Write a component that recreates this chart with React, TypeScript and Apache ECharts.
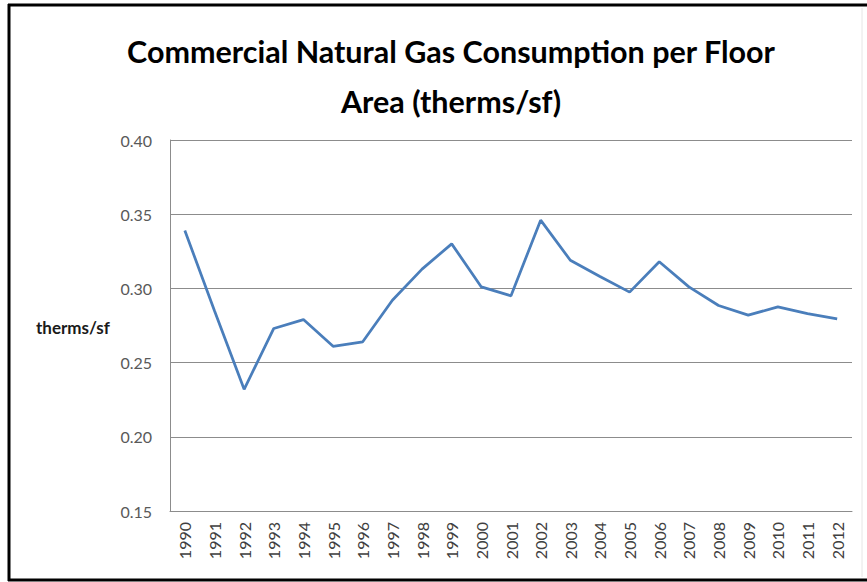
import React, { useEffect, useRef } from "react";
import * as echarts from "echarts";

const years = ["1990","1991","1992","1993","1994","1995","1996","1997","1998","1999","2000","2001","2002","2003","2004","2005","2006","2007","2008","2009","2010","2011","2012"];
const thermsPerSf = [0.339,0.285,0.232,0.273,0.279,0.261,0.264,0.292,0.313,0.330,0.301,0.295,0.346,0.319,0.308,0.2975,0.318,0.301,0.2885,0.282,0.2875,0.283,0.2795];
const titleLines = ["Commercial Natural Gas Consumption per Floor", "Area (therms/sf)"];
const yAxisName = "therms/sf";

export default function App() {
  const ref = useRef<HTMLDivElement>(null);
  useEffect(() => {
    const chart = echarts.init(ref.current!, null, { renderer: "svg" });
    chart.setOption({
      animation: false,
      backgroundColor: "#ffffff",
      textStyle: { fontFamily: "Lato, 'Open Sans', sans-serif" },
      title: {
        text: titleLines.join("\n"),
        left: 446,
        textAlign: "center",
        top: 21,
        textStyle: {
          fontFamily: "Lato, sans-serif",
          fontSize: 30.5,
          fontWeight: "bold",
          color: "#000000",
          lineHeight: 50,
        },
      },
      grid: { left: 170, right: 15, top: 140, bottom: 71, containLabel: false },
      xAxis: {
        type: "category",
        data: years,
        boundaryGap: true,
        axisLine: { show: true, lineStyle: { color: "#8c8c8c", width: 1 } },
        axisTick: { show: false },
        axisLabel: { rotate: 90, margin: 11, fontSize: 16, color: "#404040", fontFamily: "Lato, sans-serif" },
        splitLine: { show: false },
      },
      yAxis: {
        type: "value",
        min: 0.15,
        max: 0.4,
        interval: 0.05,
        axisLine: { show: true, lineStyle: { color: "#8c8c8c", width: 1 } },
        axisTick: { show: false },
        axisLabel: {
          margin: 18,
          fontSize: 16,
          color: "#595959",
          fontFamily: "Lato, sans-serif",
          formatter: (v: number) => v.toFixed(2),
        },
        splitLine: { show: true, lineStyle: { color: "#8c8c8c", width: 1 } },
      },
      series: [
        {
          type: "line",
          data: thermsPerSf,
          symbol: "none",
          lineStyle: { color: "#4a7ebb", width: 2.75 },
          itemStyle: { color: "#4a7ebb" },
        },
      ],
      graphic: [
        {
          type: "text",
          x: 36,
          y: 327,
          style: { text: yAxisName, fontSize: 17, fontWeight: "bold", fill: "#1a1a1a", fontFamily: "Lato, sans-serif", verticalAlign: "middle", align: "left" },
        },
        { type: "line", shape: { x1: 8, y1: 5, x2: 867, y2: 5 }, style: { stroke: "#000", lineWidth: 3 } },
        { type: "line", shape: { x1: 9, y1: 4, x2: 9, y2: 581 }, style: { stroke: "#000", lineWidth: 3 } },
        { type: "line", shape: { x1: 8, y1: 580, x2: 867, y2: 580 }, style: { stroke: "#000", lineWidth: 3 } },
        { type: "line", shape: { x1: 862, y1: 8, x2: 862, y2: 577 }, style: { stroke: "#e6e6e6", lineWidth: 1 } },
      ],
    });
    return () => chart.dispose();
  }, []);
  return <div ref={ref} style={{ position: "fixed", left: 0, top: 0, width: 867, height: 582 }} />;
}
